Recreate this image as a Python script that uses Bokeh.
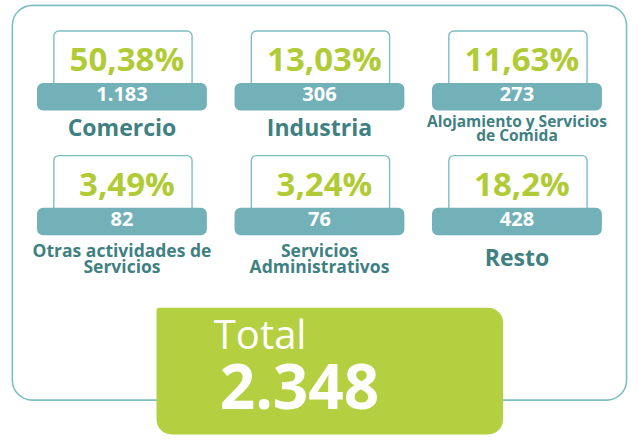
from bokeh.plotting import figure
from bokeh.models import Range1d, ColumnDataSource
from bokeh.core.properties import value
from bokeh.embed import file_html
from bokeh.resources import INLINE

# ---- data ----
categories = ["Comercio", "Industria", "Alojamiento y Servicios\nde Comida",
              "Otras actividades de\nServicios", "Servicios\nAdministrativos", "Resto"]
percentages = [50.38, 13.03, 11.63, 3.49, 3.24, 18.2]
counts = [1183, 306, 273, 82, 76, 428]
total_label = "Total"
total_value = 2348

# ---- colours ----
GREEN = "#b4cf40"
GREEN_TXT = "#b0cb36"
TEAL_BAR = "#72b1b7"
TEAL_LINE = "#7dbec4"
TEAL_TXT = "#3f8083"
FONT = "Open Sans"

def fmt_pct(v):
    return str(v).replace(".", ",") + "%"

def fmt_int(v):
    return f"{v:,}".replace(",", ".")

W, H = 631, 435
p = figure(width=W, height=H, x_range=Range1d(0, 639), y_range=Range1d(443, 0),
           output_backend="svg", toolbar_location=None, min_border=0)
p.axis.visible = False
p.grid.visible = False
p.outline_line_color = None
p.background_fill_color = "white"

# outer frame
p.quad(left=[12], right=[634], top=[5], bottom=[407], fill_color=None,
       line_color=TEAL_LINE, line_width=1.6, border_radius=20)

# card layout
n = len(categories)
cols = [i % 3 for i in range(n)]
rows = [i // 3 for i in range(n)]
cx = [123 + 200 * c for c in cols]
r0 = [31 + 127 * r for r in rows]

box = ColumnDataSource(dict(
    left=[x - 69 for x in cx], right=[x + 71 for x in cx],
    top=r0, bottom=[t + 60 for t in r0]))
p.quad(left="left", right="right", top="top", bottom="bottom", source=box,
       fill_color="white", line_color=TEAL_LINE, line_width=1.4, border_radius=5)

bar = ColumnDataSource(dict(
    left=[x - 86 for x in cx], right=[x + 86 for x in cx],
    top=[t + 53 for t in r0], bottom=[t + 81 for t in r0]))
p.quad(left="left", right="right", top="top", bottom="bottom", source=bar,
       fill_color=TEAL_BAR, line_color=None, border_radius=6)

def mid(target, size):
    return target - 0.15 * size

# percentages
p.text(x=[x + 5 for x in cx], y=[t + 28.5 for t in r0],
       text=[fmt_pct(v) for v in percentages],
       text_font=value(FONT), text_font_style="bold", text_font_size="33px",
       text_color=GREEN_TXT, text_align="center", text_baseline="middle")

# counts
p.text(x=cx, y=[mid(t + 67.5, 20) for t in r0], text=[fmt_int(v) for v in counts],
       text_font=value(FONT), text_font_style="bold", text_font_size="20px",
       text_color="white", text_align="center", text_baseline="middle")

# category labels, one glyph per line
lx, ly, lt, ls = [], [], [], []
for lab, x, t, r in zip(categories, cx, r0, rows):
    lines = lab.split("\n")
    if len(lines) == 1:
        size, step = 23, 0
    elif max(len(s) for s in lines) > 20:
        size, step = 15.5, 14
    else:
        size, step = 17.5, 16
    center = t + 81 + (20 if r == 0 else 26)
    first = center - step * (len(lines) - 1) / 2
    for k, s in enumerate(lines):
        lx.append(x)
        ly.append(mid(first + k * step, size))
        lt.append(s)
        ls.append(f"{size}px")
p.text(x=lx, y=ly, text=lt, text_font=value(FONT), text_font_style="bold",
       text_font_size=ls, text_color=TEAL_TXT, text_align="center",
       text_baseline="middle")

# total box
p.quad(left=[158], right=[509], top=[313], bottom=[442], fill_color=GREEN,
       line_color=None, border_radius=(3, 15, 15, 15))
p.text(x=[216], y=[339.5], text=[total_label], text_font=value(FONT),
       text_font_size="40px", text_color="white", text_align="left",
       text_baseline="middle")
p.text(x=[222], y=[393], text=[fmt_int(total_value)], text_font=value(FONT),
       text_font_style="bold", text_font_size="62px", text_color="white",
       text_align="left", text_baseline="middle")

open("out.html", "w").write(file_html(p, INLINE))
